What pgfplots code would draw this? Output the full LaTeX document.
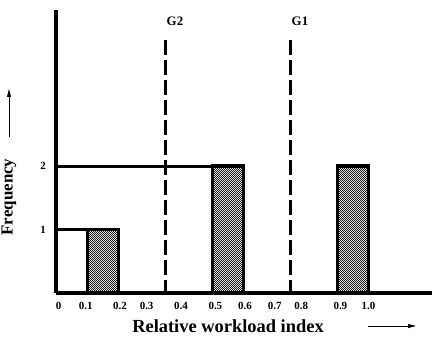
\documentclass[border=0pt]{standalone}
\usepackage{fontspec}
\setmainfont{Liberation Serif}
\usepackage{pgfplots}
\pgfplotsset{compat=1.18}
\usetikzlibrary{patterns,arrows.meta}
\pgfdeclarepatternformonly{checker}{\pgfqpoint{0pt}{0pt}}{\pgfqpoint{2.4bp}{2.4bp}}{\pgfqpoint{2.4bp}{2.4bp}}{%
  \pgfpathrectangle{\pgfqpoint{0pt}{0pt}}{\pgfqpoint{1.2bp}{1.2bp}}%
  \pgfpathrectangle{\pgfqpoint{1.2bp}{1.2bp}}{\pgfqpoint{1.2bp}{1.2bp}}%
  \pgfusepath{fill}}
\begin{document}
\begin{tikzpicture}
\begin{axis}[
  at={(0,0)}, anchor=south west,
  scale only axis, width=376bp, height=283bp,
  xmin=0, xmax=1.2032, ymin=0, ymax=4.457,
  axis x line=bottom, axis y line=left,
  axis line style={line width=3.2bp,-},
  clip=false,
  major tick length=0pt,
  xtick={0.008,0.095,0.205,0.29,0.40,0.51,0.605,0.70,0.785,0.91,1.0},
  xticklabels={0,0.1,0.2,0.3,0.4,0.5,0.6,0.7,0.8,0.9,1.0},
  ytick={1,2},
  yticklabels={1,2},
  xticklabel style={font=\fontsize{11}{13}\selectfont\bfseries, anchor=center, yshift=-13bp},
  yticklabel style={font=\fontsize{11}{13}\selectfont\bfseries, anchor=center, xshift=-13bp},
]
% horizontal frequency levels
\addplot[line width=3bp] coordinates {(0,1) (0.1,1)};
\addplot[line width=3bp] coordinates {(0,2) (0.5,2)};
% bars
\addplot[draw=black, line width=3.2bp, pattern=checker, pattern color=black!90] coordinates {(0.1,0) (0.1,1) (0.2,1) (0.2,0)} --cycle;
\addplot[draw=black, line width=3.2bp, pattern=checker, pattern color=black!90] coordinates {(0.5,0) (0.5,2) (0.6,2) (0.6,0)} --cycle;
\addplot[draw=black, line width=3.2bp, pattern=checker, pattern color=black!90] coordinates {(0.9,0) (0.9,2) (1.0,2) (1.0,0)} --cycle;
% thresholds
\addplot[line width=3.6bp, dash pattern=on 15bp off 5bp] coordinates {(0.35,3.98) (0.35,0)};
\addplot[line width=3.6bp, dash pattern=on 15bp off 5bp] coordinates {(0.75,3.98) (0.75,0)};
\end{axis}
\node[font=\fontsize{13}{15}\selectfont\bfseries] at (119bp,272bp) {G2};
\node[font=\fontsize{13}{15}\selectfont\bfseries] at (244bp,272bp) {G1};
\node[font=\fontsize{18.5}{20}\selectfont\bfseries] at (172bp,-33bp) {Relative workload index};
\draw[line width=0.9bp, -{Latex[length=9bp,width=4.5bp]}] (312bp,-33bp) -- (361bp,-33bp);
\node[font=\fontsize{17}{19}\selectfont\bfseries, rotate=90] at (-47bp,96bp) {Frequency};
\draw[line width=0.9bp, -{Latex[length=9bp,width=4.5bp]}] (-47bp,156bp) -- (-47bp,205bp);
\pgfresetboundingbox
\path (-56bp,-47bp) rectangle (380bp,293bp);
\end{tikzpicture}
\end{document}
